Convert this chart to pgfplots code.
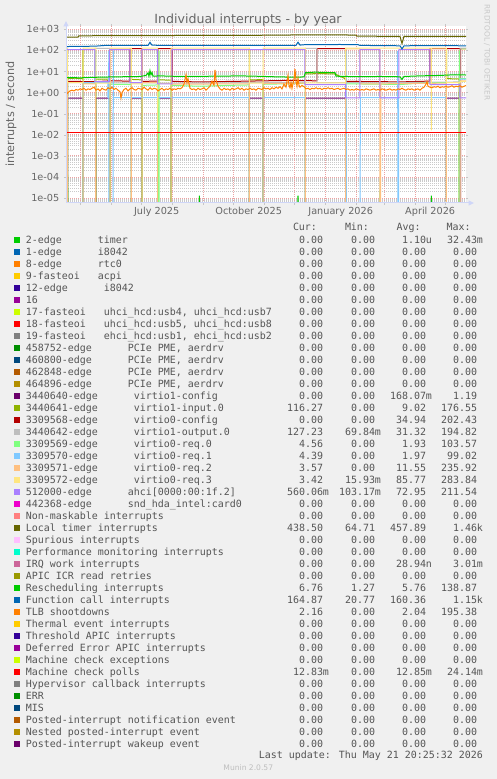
\documentclass[border=0pt]{standalone}
\usepackage{pgfplots}
\pgfplotsset{compat=1.18}
\usepackage{fontspec}
\setmainfont{DejaVu Sans}
\newfontfamily\monofont{DejaVu Sans Mono}
\newcommand\legfont{\monofont\fontsize{9.96bp}{12bp}\selectfont}
\definecolor{bgc}{HTML}{F0F0F0}
\definecolor{fontc}{HTML}{666666}
\definecolor{legc}{HTML}{555555}
\definecolor{axisc}{HTML}{CFD6F8}
\definecolor{mgrid}{HTML}{EDA3A3}
\definecolor{gridc}{HTML}{CACACA}
\definecolor{h00CC00}{HTML}{00CC00}
\definecolor{h0066B3}{HTML}{0066B3}
\definecolor{hFF8000}{HTML}{FF8000}
\definecolor{hFFCC00}{HTML}{FFCC00}
\definecolor{h330099}{HTML}{330099}
\definecolor{h990099}{HTML}{990099}
\definecolor{hCCFF00}{HTML}{CCFF00}
\definecolor{hFF0000}{HTML}{FF0000}
\definecolor{h808080}{HTML}{808080}
\definecolor{h008F00}{HTML}{008F00}
\definecolor{h00487D}{HTML}{00487D}
\definecolor{hB35A00}{HTML}{B35A00}
\definecolor{hB38F00}{HTML}{B38F00}
\definecolor{h6B006B}{HTML}{6B006B}
\definecolor{h8FB300}{HTML}{8FB300}
\definecolor{hB30000}{HTML}{B30000}
\definecolor{hBEBEBE}{HTML}{BEBEBE}
\definecolor{h80FF80}{HTML}{80FF80}
\definecolor{h80C9FF}{HTML}{80C9FF}
\definecolor{hFFC080}{HTML}{FFC080}
\definecolor{hFFE680}{HTML}{FFE680}
\definecolor{hAA80FF}{HTML}{AA80FF}
\definecolor{hEE00CC}{HTML}{EE00CC}
\definecolor{hFF8080}{HTML}{FF8080}
\definecolor{h666600}{HTML}{666600}
\definecolor{hFFBFFF}{HTML}{FFBFFF}
\definecolor{h00FFCC}{HTML}{00FFCC}
\definecolor{hCC6699}{HTML}{CC6699}
\definecolor{h999900}{HTML}{999900}
\tikzset{lbl/.style={inner sep=0pt, text=legc, font=\legfont}}
\newcommand\lrow[7]{%
  \pgfmathsetmacro\yb{535.7-12*#1}%
  \fill[#2] (14.3,\yb+0.6) rectangle (19.8,\yb+6.1);
  \node[lbl, anchor=base west] at (25.8,\yb) {#3};
  \node[lbl, anchor=base east] at (323.2,\yb) {#4};
  \node[lbl, anchor=base east] at (375.2,\yb) {#5};
  \node[lbl, anchor=base east] at (426.2,\yb) {#6};
  \node[lbl, anchor=base east] at (477.2,\yb) {#7};
}
\newcommand\zrow[3]{\lrow{#1}{#2}{#3}{0.00}{0.00}{0.00}{0.00}}
\begin{document}
\begin{tikzpicture}
\fill[bgc] (0,0) rectangle (497bp,779bp);
\begin{axis}[
  at={(66bp,576bp)}, anchor=south west,
  scale only axis, width=400bp, height=177bp,
  xmin=66, xmax=466, ymode=log, ymin=5.86e-6, ymax=1430,
  axis background/.style={fill=white},
  axis line style={draw=none},
  xtick={156.7,248.7,340.7,430.2},
  xticklabels={July 2025,October 2025,January 2026,April 2026},
  xtick style={draw=none},
  extra x ticks={80.2,111.2,141.2,172.2,203.2,233.2,264.2,294.2,325.2,356.2,384.2,415.2,445.2},
  extra x tick labels={},
  extra x tick style={xmajorgrids=true, xtick style={draw=gray!45}},
  ytick={1e-5,1e-4,1e-3,1e-2,1e-1,1,10,100,1000},
  yticklabels={1e-05,1e-04,1e-03,1e-02,1e-01,1e+00,1e+01,1e+02,1e+03},
  minor ytick={6e-6,7e-6,8e-6,9e-6,
    2e-5,3e-5,4e-5,5e-5,6e-5,7e-5,8e-5,9e-5,
    2e-4,3e-4,4e-4,5e-4,6e-4,7e-4,8e-4,9e-4,
    2e-3,3e-3,4e-3,5e-3,6e-3,7e-3,8e-3,9e-3,
    2e-2,3e-2,4e-2,5e-2,6e-2,7e-2,8e-2,9e-2,
    0.2,0.3,0.4,0.5,0.6,0.7,0.8,0.9,
    2,3,4,5,6,7,8,9,
    20,30,40,50,60,70,80,90,
    200,300,400,500,600,700,800,900},
  ymajorgrids, yminorgrids, xmajorgrids=false,
  major grid style={draw=mgrid, line width=0.8bp, dash pattern=on 1bp off 1bp},
  minor grid style={draw=gridc, line width=0.8bp, dash pattern=on 1bp off 1bp},
  tick align=outside, major tick length=2bp, minor tick length=0pt,
  ytick style={draw=gray!45},
  ticklabel style={font=\fontsize{9.7bp}{11bp}\selectfont, text=fontc, inner sep=0pt},
  yticklabel style={anchor=east, xshift=-4.5bp},
  xticklabel style={anchor=base, yshift=-10bp},
  every axis plot/.append style={line width=1bp},
]
% 2-edge timer
\addplot[h00CC00] coordinates {(66,1e-9)(67.3,1e-9)(67.7,1.3e-4)(68.1,1e-9)(199,1e-9)(199.4,1.3e-5)(199.8,1e-9)(297.6,1e-9)(298,1.3e-5)(298.4,1e-9)(345.6,1e-9)(346,1.1e-4)(346.4,1e-9)(379.9,1e-9)(380.3,1.0e-4)(380.7,1e-9)(430.9,1e-9)(431.3,1.3e-5)(431.7,1e-9)(459.7,1e-9)(460.1,1.2e-5)(460.5,1e-9)(466,1e-9)};
% virtio1-config
\addplot[h6B006B] coordinates {(66,1e-9)(67.5,1e-9)(67.7,0.54)(83,0.54)(83.2,1e-9)(95.8,1e-9)(96,0.54)(110,0.54)(110.2,1e-9)(131.3,1e-9)(131.5,0.54)(142,0.54)(142.2,1e-9)(157.8,1e-9)(158,0.54)(171,0.54)(171.2,1e-9)(249.3,1e-9)(249.5,0.54)(263,0.54)(263.2,1e-9)(305.3,1e-9)(305.5,0.54)(345.5,0.54)(345.7,1e-9)(446.3,1e-9)(446.5,0.54)(460,0.54)(460.2,1e-9)(466,1e-9)};
% virtio1-input.0
\addplot[h8FB300] coordinates {(66,1e-9)(67.5,1e-9)(67.7,4.6)(75,4.8)(82.8,4.5)(83,110)(83.2,1e-9)(95.8,1e-9)(96,4.4)(110,4.3)(110.2,1e-9)(131.3,1e-9)(131.5,4.2)(142,4.0)(142.2,1e-9)(157.8,1e-9)(158,4.0)(171,3.9)(171.2,1e-9)(249.3,1e-9)(249.5,110)(249.8,4.0)(263,4.1)(263.2,1e-9)(305.3,1e-9)(305.5,7.6)(320,8.0)(335,7.6)(345.5,4.5)(345.7,1e-9)(446.3,1e-9)(446.5,110)(446.8,4.6)(459.1,4.4)(459.3,1e-9)(459.6,1e-9)(460.2,116.3)(466,116.3)};
% virtio0-config
\addplot[hB30000] coordinates {(66,3.4)(95,3.3)(110,3.6)(129.8,3.5)(130,122)(142,122)(142.2,3.4)(157.8,3.5)(158,122)(172,122)(172.2,3.4)(200,3.2)(250,3.5)(290,3.8)(316.8,3.6)(317,122)(345.5,122)(345.7,3.4)(380,3.3)(400,3.2)(429.8,3.5)(430,122)(460.5,122)(460.7,1e-9)(466,1e-9)};
% virtio1-output.0
\addplot[hBEBEBE] coordinates {(66,3.0)(94.8,3.0)(95,125)(109.8,125)(110,2.9)(200,2.8)(250,3.0)(305.3,3.1)(305.5,125)(316.8,125)(317,3.0)(380,2.9)(460,3.2)(460.2,127)(466,127)};
% virtio0-req.0
\addplot[h80FF80] coordinates {(66,3)(67.5,3)(67.7,1e-9)(83,1e-9)(83.2,2.8)(95.4,2.8)(95.6,100)(95.8,1e-9)(110,1e-9)(110.2,2.5)(131.1,2.4)(131.3,95)(131.5,1e-9)(142,1e-9)(142.2,2.2)(157.6,2.3)(158,1e-9)(158.8,1e-9)(159,98)(159.2,1e-9)(171,1e-9)(171.2,2.2)(200,2.0)(230,2.2)(249.3,2.3)(249.5,1e-9)(263,1e-9)(263.2,2.5)(290,2.6)(305.3,2.8)(305.5,1e-9)(345.5,1e-9)(345.7,2.6)(380,2.5)(400,2.4)(420,2.8)(446.3,3.0)(446.5,1e-9)(459.1,1e-9)(459.3,100)(459.6,4.56)(466,4.56)};
% virtio0-req.1
\addplot[h80C9FF] coordinates {(66,3.2)(67.5,3.2)(67.7,1e-9)(83,1e-9)(83.2,3.0)(107.8,3.0)(108,0.57)(108.6,0.57)(108.8,95)(109,1e-9)(113.1,1e-9)(113.3,99)(113.5,0.57)(249.3,0.57)(249.5,1e-9)(263,1e-9)(263.2,0.57)(305.3,0.57)(305.5,1e-9)(346,1e-9)(346.2,95)(346.4,1e-9)(360.1,1e-9)(360.3,0.57)(397.5,0.57)(397.7,95)(397.9,1e-9)(398.5,1e-9)(398.7,0.57)(446.3,0.57)(446.5,1e-9)(460,1e-9)(460.2,4.39)(466,4.39)};
% virtio0-req.2
\addplot[hFFC080] coordinates {(66,2.8)(67.5,2.8)(67.7,1e-9)(83,1e-9)(83.2,2.6)(95.6,2.6)(95.8,1e-9)(110,1e-9)(110.2,118)(131.3,118)(131.5,1e-9)(142,1e-9)(142.2,3)(157.4,3)(157.6,120)(157.8,1e-9)(171,1e-9)(171.2,120)(171.4,2.5)(249.3,2.6)(249.5,1e-9)(263,1e-9)(263.2,2.7)(305.3,2.8)(305.5,1e-9)(345.5,1e-9)(345.7,118)(360,118)(360.2,2.6)(379.6,2.6)(379.8,120)(380,1e-9)(380.6,1e-9)(380.8,2.6)(446.3,2.8)(446.5,1e-9)(460,1e-9)(460.2,3.57)(466,3.57)};
% virtio0-req.3
\addplot[hFFE680] coordinates {(66,128)(67.5,128)(67.7,3.0)(83,3.0)(83.2,128)(95.8,128)(96,2.8)(110,2.8)(110.2,128)(131.3,128)(131.5,2.6)(142,2.6)(142.2,128)(157.6,128)(157.7,0.016)(157.8,2.7)(171,2.7)(171.2,128)(249.3,128)(249.5,2.8)(263,2.8)(263.2,128)(305.3,128)(305.5,2.9)(345.5,2.9)(345.7,128)(431.2,128)(431.3,0.016)(431.4,128)(446.3,128)(446.5,3.0)(460,3.0)(460.2,3.42)(466,3.42)};
% ahci
\addplot[hAA80FF] coordinates {(66,110)(94.8,110)(95,3.3)(109.5,3.3)(109.7,110)(129.8,110)(130,3.0)(141.8,3.0)(142,110)(157.5,110)(157.7,2.6)(171.8,2.6)(172,110)(304.8,110)(305,2.4)(345.5,2.4)(345.7,0.56)(359.8,0.56)(360,110)(379.8,110)(380,0.56)(398.8,0.56)(399,110)(429.8,110)(430,2.4)(459.8,2.4)(460,0.56)(466,0.56)};
% Local timer
\addplot[h666600] coordinates {(66,430)(78,430)(79,490)(120,500)(160,505)(200,510)(260,520)(300,540)(320,545)(340,540)(356,530)(357,470)(390,465)(400,460)(402,210)(404,465)(466,465)};
% Rescheduling
\addplot[h00CC00] coordinates {(66,5.2)(80,5.0)(95,5.3)(110,5.5)(120,5.6)(140,5.8)(146,6.5)(148,8.5)(149,6)(150,11)(151,7)(152,9)(153,6)(160,6.2)(180,5.8)(200,5.9)(220,6.0)(240,6.2)(260,5.9)(280,5.5)(300,5.4)(304,5.6)(305.5,8.8)(315,9.3)(325,9.0)(335,8.8)(336,6)(345,5.8)(360,5.7)(380,5.8)(400,5.6)(402,4.2)(404,5.8)(420,6.2)(440,6.5)(455,7.0)(466,6.8)};
% Function call
\addplot[h0066B3] coordinates {(66,152)(80,155)(95,158)(105,172)(140,174)(148,172)(150,240)(152,176)(160,174)(200,172)(250,172)(296,174)(298,245)(300,178)(305,187)(340,190)(358,186)(360,172)(400,165)(402,118)(404,165)(430,168)(466,165)};
% TLB shootdowns
\addplot[hFF8000] coordinates {(66,0.8)(68,1.0)(70,1.2)(72,1.3)(74,1.2)(76,1.4)(78,1.3)(80,1.5)(82,1.4)(84,1.6)(86,1.3)(88,1.5)(90,1.4)(92,1.6)(94,1.8)(96,1.3)(98,1.5)(100,1.2)(102,1.6)(104,1.4)(106,1.3)(108,1.7)(110,1.5)(112,1.8)(114,1.4)(116,1.6)(118,1.3)(120,1.1)(121,0.55)(122,1.0)(124,1.4)(126,1.6)(128,1.2)(130,1.5)(132,1.7)(134,1.4)(136,1.3)(138,1.6)(140,1.5)(142,1.4)(144,1.8)(146,1.5)(148,1.3)(150,1.7)(152,1.4)(154,1.6)(156,1.5)(158,1.2)(160,1.4)(162,1.6)(164,1.3)(166,1.5)(168,1.4)(170,1.6)(172,1.3)(174,1.5)(176,1.4)(178,1.6)(180,1.5)(182,1.7)(184,2.5)(186,7.0)(187,3.0)(188,4.5)(190,1.6)(192,1.4)(194,1.5)(196,1.3)(198,1.6)(200,1.4)(202,1.5)(204,1.7)(206,1.3)(208,1.6)(210,2.0)(212,3.5)(214,2.2)(215,12)(216,4.0)(218,2.0)(220,1.5)(222,1.3)(224,1.6)(226,1.4)(228,1.5)(230,1.3)(232,1.6)(234,1.4)(236,1.5)(238,1.7)(240,1.4)(242,1.6)(244,1.3)(246,1.5)(248,1.4)(250,1.6)(252,1.4)(254,1.5)(256,1.3)(258,1.6)(260,1.5)(262,1.4)(264,1.7)(266,1.5)(268,1.6)(270,1.4)(272,1.7)(274,1.5)(276,1.8)(278,1.6)(280,1.9)(282,1.5)(284,2.5)(286,1.8)(288,6.5)(289,2.2)(290,1.7)(291,3.0)(292,1.6)(294,4.5)(295,13)(296,3.5)(297,2.0)(298,5.0)(299,2.2)(300,1.8)(302,2.2)(304,1.9)(306,1.5)(308,1.6)(310,1.4)(312,1.6)(314,1.5)(316,1.7)(318,1.5)(320,1.6)(322,1.4)(324,1.6)(326,1.5)(328,1.7)(330,1.5)(332,1.6)(334,1.4)(336,1.5)(338,1.6)(340,1.4)(342,1.5)(344,1.6)(346,1.4)(348,1.5)(350,1.3)(352,1.4)(354,1.3)(356,1.5)(358,1.4)(360,1.3)(362,1.4)(364,1.3)(366,1.5)(368,1.4)(370,1.3)(372,1.4)(374,1.5)(376,1.3)(378,1.4)(380,1.3)(382,1.5)(384,1.4)(386,1.3)(388,1.4)(390,1.5)(392,1.3)(394,1.4)(396,1.3)(398,1.5)(400,1.4)(402,1.6)(404,1.4)(406,1.3)(408,1.5)(410,1.4)(412,1.5)(414,1.3)(416,1.4)(418,1.5)(420,1.3)(422,1.6)(424,1.8)(426,2.5)(427,3.3)(428,2.0)(430,1.8)(432,1.7)(434,1.9)(436,1.8)(438,2.0)(440,1.7)(442,1.9)(444,1.8)(446,2.0)(448,1.8)(450,1.9)(452,2.1)(454,1.8)(456,2.0)(458,1.9)(460,2.1)(462,1.8)(464,2.0)(466,2.16)};
% Machine check polls
\addplot[hFF0000] coordinates {(66,0.0128)(466,0.0128)};
\end{axis}
\begin{scope}[x=1bp,y=1bp]
% axis lines and arrows
\draw[axisc, line width=1bp] (66,576) -- (469,576);
\draw[axisc, line width=1bp] (66,576) -- (66,753);
\fill[axisc] (468.5,573.3) -- (474,576) -- (468.5,578.7) -- cycle;
\fill[axisc] (63.3,752.5) -- (66,758) -- (68.7,752.5) -- cycle;
% titles
\node[anchor=base, inner sep=0pt, text=fontc, font=\fontsize{12.6bp}{14bp}\selectfont] at (248,755.5) {Individual interrupts - by year};
\node[rotate=90, inner sep=0pt, text=fontc, font=\fontsize{11.2bp}{13bp}\selectfont] at (11,665) {interrupts / second};
\node[rotate=-90, inner sep=0pt, text={rgb,255:red,200;green,200;blue,200}, font=\fontsize{7.4bp}{9bp}\selectfont] at (487,726.5) {RRDTOOL / TOBI OETIKER};
% legend header
\node[lbl, anchor=base west] at (292.8,548.1) {Cur:};
\node[lbl, anchor=base west] at (344.8,548.1) {Min:};
\node[lbl, anchor=base west] at (396.4,548.1) {Avg:};
\node[lbl, anchor=base west] at (446.4,548.1) {Max:};
% legend rows
\lrow{0}{h00CC00}{2-edge~~~~~~timer}{0.00}{0.00}{1.10\rlap{u}}{32.43\rlap{m}}
\zrow{1}{h0066B3}{1-edge~~~~~~i8042}
\zrow{2}{hFF8000}{8-edge~~~~~~rtc0}
\zrow{3}{hFFCC00}{9-fasteoi~~~acpi}
\zrow{4}{h330099}{12-edge~~~~~~i8042}
\zrow{5}{h990099}{16}
\zrow{6}{hCCFF00}{17-fasteoi~~~uhci\_hcd:usb4, uhci\_hcd:usb7}
\zrow{7}{hFF0000}{18-fasteoi~~~uhci\_hcd:usb5, uhci\_hcd:usb8}
\zrow{8}{h808080}{19-fasteoi~~~ehci\_hcd:usb1, ehci\_hcd:usb2}
\zrow{9}{h008F00}{458752-edge~~~~~~PCIe PME, aerdrv}
\zrow{10}{h00487D}{460800-edge~~~~~~PCIe PME, aerdrv}
\zrow{11}{hB35A00}{462848-edge~~~~~~PCIe PME, aerdrv}
\zrow{12}{hB38F00}{464896-edge~~~~~~PCIe PME, aerdrv}
\lrow{13}{h6B006B}{3440640-edge~~~~~~virtio1-config}{0.00}{0.00}{168.07\rlap{m}}{1.19}
\lrow{14}{h8FB300}{3440641-edge~~~~~~virtio1-input.0}{116.27}{0.00}{9.02}{176.55}
\lrow{15}{hB30000}{3309568-edge~~~~~~virtio0-config}{0.00}{0.00}{34.94}{202.43}
\lrow{16}{hBEBEBE}{3440642-edge~~~~~~virtio1-output.0}{127.23}{69.84\rlap{m}}{31.32}{194.82}
\lrow{17}{h80FF80}{3309569-edge~~~~~~virtio0-req.0}{4.56}{0.00}{1.93}{103.57}
\lrow{18}{h80C9FF}{3309570-edge~~~~~~virtio0-req.1}{4.39}{0.00}{1.97}{99.02}
\lrow{19}{hFFC080}{3309571-edge~~~~~~virtio0-req.2}{3.57}{0.00}{11.55}{235.92}
\lrow{20}{hFFE680}{3309572-edge~~~~~~virtio0-req.3}{3.42}{15.93\rlap{m}}{85.77}{283.84}
\lrow{21}{hAA80FF}{512000-edge~~~~~~ahci[0000:00:1f.2]}{560.06\rlap{m}}{103.17\rlap{m}}{72.95}{211.54}
\zrow{22}{hEE00CC}{442368-edge~~~~~~snd\_hda\_intel:card0}
\zrow{23}{hFF8080}{Non-maskable interrupts}
\lrow{24}{h666600}{Local timer interrupts}{438.50}{64.71}{457.89}{1.46\rlap{k}}
\zrow{25}{hFFBFFF}{Spurious interrupts}
\zrow{26}{h00FFCC}{Performance monitoring interrupts}
\lrow{27}{hCC6699}{IRQ work interrupts}{0.00}{0.00}{28.94\rlap{n}}{3.01\rlap{m}}
\zrow{28}{h999900}{APIC ICR read retries}
\lrow{29}{h00CC00}{Rescheduling interrupts}{6.76}{1.27}{5.76}{138.87}
\lrow{30}{h0066B3}{Function call interrupts}{164.87}{20.77}{160.36}{1.15\rlap{k}}
\lrow{31}{hFF8000}{TLB shootdowns}{2.16}{0.00}{2.04}{195.38}
\zrow{32}{hFFCC00}{Thermal event interrupts}
\zrow{33}{h330099}{Threshold APIC interrupts}
\zrow{34}{h990099}{Deferred Error APIC interrupts}
\zrow{35}{hCCFF00}{Machine check exceptions}
\lrow{36}{hFF0000}{Machine check polls}{12.83\rlap{m}}{0.00}{12.85\rlap{m}}{24.14\rlap{m}}
\zrow{37}{h808080}{Hypervisor callback interrupts}
\zrow{38}{h008F00}{ERR}
\zrow{39}{h00487D}{MIS}
\zrow{40}{hB35A00}{Posted-interrupt notification event}
\zrow{41}{hB38F00}{Nested posted-interrupt event}
\zrow{42}{h6B006B}{Posted-interrupt wakeup event}
% footer
\node[lbl, anchor=base east] at (483,20.7) {Last update: Thu May 21 20:25:32 2026};
\node[anchor=base, inner sep=0pt, text={rgb,255:red,190;green,190;blue,190}, font=\fontsize{7.6bp}{9bp}\selectfont] at (248.3,8.5) {Munin 2.0.57};
\end{scope}
\pgfresetboundingbox
\path[use as bounding box] (0,0) rectangle (497bp,779bp);
\end{tikzpicture}
\end{document}
